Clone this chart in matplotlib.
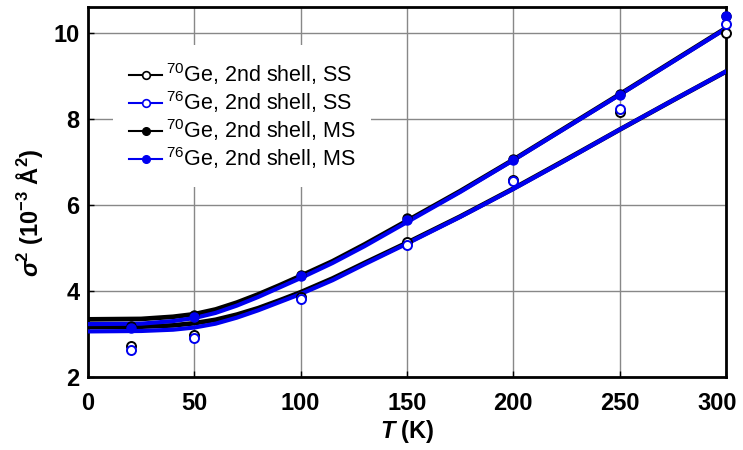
import matplotlib
matplotlib.use('Agg')
import matplotlib.pyplot as plt
from matplotlib.lines import Line2D
from matplotlib.transforms import ScaledTranslation


# Measured points (T in K, sigma^2 in 1e-3 A^2)
T_pts = [20, 50, 100, 150, 200, 250, 300]
ss70_pts = [2.72, 2.98, 3.85, 5.14, 6.58, 8.16, 10.00]
ss76_pts = [2.62, 2.90, 3.82, 5.08, 6.56, 8.22, 10.21]
ms70_pts = [3.18, 3.44, 4.38, 5.70, 7.07, 8.58, 10.40]
ms76_pts = [3.14, 3.40, 4.35, 5.65, 7.05, 8.56, 10.40]

# Model curves
T_fit = [0, 25, 40, 50, 60, 70, 80, 90, 100, 115, 130, 150, 175, 200, 225,
         250, 275, 300]
ss70_fit = [3.16, 3.17, 3.20, 3.25, 3.33, 3.45, 3.60, 3.78, 3.97, 4.29, 4.65,
            5.12, 5.73, 6.38, 7.06, 7.75, 8.43, 9.10]
ss76_fit = [3.06, 3.07, 3.10, 3.15, 3.24, 3.38, 3.55, 3.74, 3.93, 4.25, 4.62,
            5.10, 5.72, 6.37, 7.05, 7.75, 8.43, 9.10]
ms70_fit = [3.34, 3.35, 3.40, 3.46, 3.57, 3.73, 3.92, 4.13, 4.35, 4.69, 5.08,
            5.63, 6.32, 7.05, 7.81, 8.57, 9.34, 10.11]
ms76_fit = [3.23, 3.24, 3.30, 3.37, 3.49, 3.66, 3.86, 4.08, 4.30, 4.65, 5.04,
            5.60, 6.30, 7.04, 7.80, 8.56, 9.33, 10.10]

labels = [r'$^{70}$Ge, 2nd shell, SS', r'$^{76}$Ge, 2nd shell, SS',
          r'$^{70}$Ge, 2nd shell, MS', r'$^{76}$Ge, 2nd shell, MS']

plt.rcParams['font.family'] = ['Liberation Sans', 'DejaVu Sans']
plt.rcParams['mathtext.fontset'] = 'custom'
plt.rcParams['mathtext.rm'] = 'Liberation Sans'
plt.rcParams['mathtext.it'] = 'Liberation Sans:italic'
plt.rcParams['mathtext.bf'] = 'Liberation Sans:bold'
plt.rcParams['mathtext.bfit'] = 'Liberation Sans:italic:bold'

blue = '#0000f0'
fig, ax = plt.subplots(figsize=(7.43, 4.5), dpi=100)
fig.subplots_adjust(left=0.1184, right=0.9771, bottom=0.1622, top=0.9844)

# Curves: black under blue
ax.plot(T_fit, ss70_fit, '-', color='black', lw=3.4, zorder=3)
ax.plot(T_fit, ss76_fit, '-', color=blue, lw=3.0, zorder=3)
ax.plot(T_fit, ms70_fit, '-', color='black', lw=3.4, zorder=3)
ax.plot(T_fit, ms76_fit, '-', color=blue, lw=3.0, zorder=3)

# Points
ax.plot(T_pts, ms70_pts, 'o', color='black', ms=6.5, zorder=4, clip_on=False)
ax.plot(T_pts, ms76_pts, 'o', color=blue, ms=6.5, zorder=4, clip_on=False)
ax.plot(T_pts, ss70_pts, 'o', mfc='white', mec='black', mew=1.4, ms=6.5,
        zorder=5, clip_on=False)
ax.plot(T_pts, ss76_pts, 'o', mfc='white', mec=blue, mew=1.4, ms=6.5,
        zorder=5, clip_on=False)

ax.set_xlim(0, 300)
ax.set_ylim(2, 10.6)
ax.set_xticks(range(0, 301, 50))
ax.set_yticks([2, 4, 6, 8, 10])
ax.grid(True, color='#888888', lw=1.0)
ax.set_axisbelow(True)
for s in ax.spines.values():
    s.set_linewidth(2.0)
ax.tick_params(axis='both', direction='in', length=4, width=1,
               labelsize=17)
ax.tick_params(axis='x', pad=11)
ax.tick_params(axis='y', pad=6)
for lab in ax.get_xticklabels() + ax.get_yticklabels():
    lab.set_fontweight('bold')
last = ax.get_xticklabels()[-1]
last.set_transform(last.get_transform()
                   + ScaledTranslation(-0.09, 0, fig.dpi_scale_trans))

ax.set_xlabel(r'$\mathbfit{T}$ (K)', fontsize=17, fontweight='bold',
              labelpad=2)
ax.set_ylabel(r'$\mathbfit{\sigma}^{\mathbf{2}}$ (10$^{\mathbf{-3}}$ Å$^{\mathbf{2}}$)',
              fontsize=17, fontweight='bold')
ax.yaxis.set_label_coords(-0.067, 0.443)

handles = [
    Line2D([], [], color='black', lw=1.5, marker='o', ms=5.5, mfc='white',
           mec='black', mew=1.2),
    Line2D([], [], color=blue, lw=1.5, marker='o', ms=5.5, mfc='white',
           mec=blue, mew=1.2),
    Line2D([], [], color='black', lw=1.5, marker='o', ms=5.5),
    Line2D([], [], color=blue, lw=1.5, marker='o', ms=5.5),
]
leg = ax.legend(handles, labels, loc='upper left',
                bbox_to_anchor=(0.039, 0.897), fontsize=15.5,
                frameon=True, fancybox=False, edgecolor='none',
                facecolor='white', framealpha=1, borderpad=0.75,
                labelspacing=0.1, handlelength=1.55, handletextpad=0.15,
                borderaxespad=0)
leg.set_zorder(2.5)

plt.savefig('out.png', dpi=100)
